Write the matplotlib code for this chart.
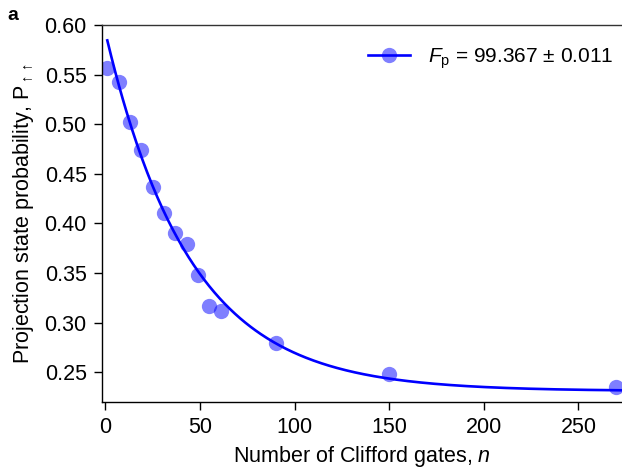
import numpy as np
import matplotlib
matplotlib.use("Agg")
import matplotlib.pyplot as plt

plt.rcParams['font.family'] = ['Liberation Sans', 'DejaVu Sans']
plt.rcParams['mathtext.fontset'] = 'custom'
plt.rcParams['mathtext.rm'] = 'Liberation Sans'
plt.rcParams['mathtext.it'] = 'Liberation Sans:italic'

# Clifford sequence lengths and measured probabilities
n_gates = [1, 7, 13, 19, 25, 31, 37, 43, 49, 55, 61, 90, 150, 270]
prob = [0.557, 0.543, 0.502, 0.474, 0.437, 0.411, 0.390, 0.379,
        0.348, 0.317, 0.312, 0.279, 0.248, 0.235]

# fit parameters: y = B + A * exp(-k (n - 1))
fit_A = 0.3535
fit_k = 0.0224
fit_B = 0.231

fig = plt.figure(figsize=(6.22, 4.76), dpi=100)
ax = fig.add_axes([102 / 622, 1 - 402 / 476, 1 - 102 / 622, (402 - 25) / 476])

n_fit = np.linspace(1, 273, 400)
y_fit = fit_B + fit_A * np.exp(-fit_k * (n_fit - 1))

ax.plot(n_gates, prob, 'o', color='blue', alpha=0.5, markersize=11,
        markeredgewidth=0, zorder=2)
ax.plot(n_fit, y_fit, '-', color='blue', lw=1.9, zorder=3)

# legend handle: line with marker
h_line, = ax.plot([], [], '-', color='blue', lw=1.9)
h_pt, = ax.plot([], [], 'o', color='blue', alpha=0.5, markersize=11,
                markeredgewidth=0)
ax.legend([(h_line, h_pt)], [r'$F_{\rm p}$ = 99.367 ± 0.011'],
          loc='upper right', frameon=False, fontsize=15,
          handlelength=2.0, handletextpad=0.9, borderaxespad=0.4,
          bbox_to_anchor=(1.016, 0.987))

ax.set_xlim(-1.8, 273)
ax.set_ylim(0.22, 0.60)
ax.set_xticks([0, 50, 100, 150, 200, 250])
ax.set_yticks([0.25, 0.30, 0.35, 0.40, 0.45, 0.50, 0.55, 0.60])
ax.set_yticklabels(['0.25', '0.30', '0.35', '0.40', '0.45', '0.50', '0.55', '0.60'])
ax.tick_params(direction='out', length=6, width=1, labelsize=15.5, pad=5)
ax.spines['right'].set_visible(False)
for s in ['left', 'bottom', 'top']:
    ax.spines[s].set_linewidth(1)
ax.spines['top'].set_color('#333333')

ax.set_xlabel(r'Number of Clifford gates, $n$', fontsize=15.5, labelpad=4)
ax.set_ylabel(r'Projection state probability, P$_{\uparrow\uparrow}$',
              fontsize=15.5, labelpad=6)

fig.text(0.012, 0.985, 'a', fontsize=14, fontweight='bold', va='top')

fig.savefig('out.png', dpi=100)
